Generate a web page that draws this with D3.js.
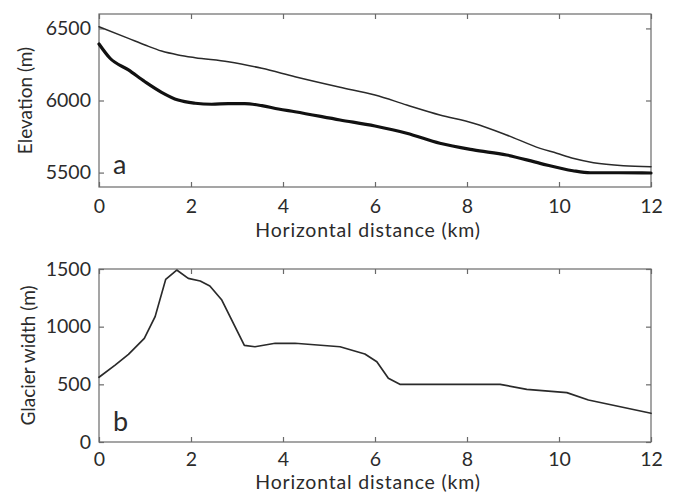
<!DOCTYPE html>
<html>
<head>
<meta charset="utf-8">
<script src="https://cdn.jsdelivr.net/npm/d3@7"></script>
<style>
  html, body { margin: 0; padding: 0; background: #fff; }
  svg { display: block; }
  text { font-family: Lato, "Open Sans", sans-serif; fill: #2b2b2b; }
</style>
</head>
<body>
<svg id="chart" width="678" height="493"></svg>
<script>
// ---- Data ----
const xTicks = [0, 2, 4, 6, 8, 10, 12];
const elevTicks = [5500, 6000, 6500];
const widthTicks = [0, 500, 1000, 1500];

// Panel a: ice surface (thin) and bed (thick), distance in km, elevation in m
const surfaceX = [0, 0.64, 1.0, 1.36, 1.72, 2.09, 2.81, 3.54, 4.26, 5.24, 6.0, 6.69, 7.41, 8.14, 8.86, 9.59, 9.95, 10.3, 10.75, 11.4, 12];
const surfaceY = [6512, 6431, 6385, 6343, 6316, 6297, 6269, 6223, 6165, 6092, 6038, 5969, 5900, 5842, 5761, 5668, 5634, 5599, 5569, 5548, 5541];

const bedX = [0, 0.24, 0.64, 1.0, 1.36, 1.72, 2.09, 2.45, 2.81, 3.17, 3.54, 3.9, 4.26, 5.24, 6.0, 6.69, 7.41, 8.14, 8.86, 9.59, 10.3, 10.68, 11.3, 12];
const bedY = [6392, 6293, 6212, 6130, 6057, 6003, 5981, 5974, 5978, 5978, 5964, 5941, 5922, 5865, 5823, 5773, 5703, 5657, 5622, 5564, 5513, 5499, 5499, 5497];

// Panel b: glacier width (m)
const widthX = [0, 0.35, 0.64, 0.985, 1.22, 1.45, 1.69, 1.94, 2.2, 2.41, 2.67, 3.16, 3.39, 3.83, 4.26, 5.24, 5.78, 6.04, 6.29, 6.54, 8.72, 9.30, 10.17, 10.64, 12.0];
const widthY = [561, 667, 760, 899, 1087, 1410, 1491, 1419, 1396, 1353, 1231, 838, 826, 856, 856, 826, 763, 696, 552, 500, 500, 457, 428, 364, 249];

const xLabel = "Horizontal distance (km)";
const elevLabel = "Elevation (m)";
const widthLabel = "Glacier width (m)";

// ---- Layout ----
const svg = d3.select("#chart");
const left = 99, right = 651;
const axisColor = "#6a6a6a";
const fontFam = "Lato, 'Open Sans', sans-serif";
const fs = 19.5;

const x = d3.scaleLinear().domain([0, 12]).range([left, right]);

function panel(top, bottom, yDomain, yTicks, yLabel, yLabelX, xLabelY, xPad, letter, letterY, series) {
  const y = d3.scaleLinear().domain(yDomain).range([bottom, top]);
  const g = svg.append("g");

  // box
  g.append("rect").attr("x", left).attr("y", top)
    .attr("width", right - left).attr("height", bottom - top)
    .attr("fill", "none").attr("stroke", axisColor).attr("stroke-width", 1.2);

  // inward ticks (all four sides)
  const tl = 5;
  const axB = d3.axisBottom(x).tickValues(xTicks).tickSize(-tl).tickFormat(d3.format("d")).tickPadding(xPad);
  const axT = d3.axisTop(x).tickValues(xTicks).tickSize(-tl).tickFormat("");
  const axL = d3.axisLeft(y).tickValues(yTicks).tickSize(-tl).tickFormat(d3.format("d")).tickPadding(8);
  const axR = d3.axisRight(y).tickValues(yTicks).tickSize(-tl).tickFormat("");

  [[axB, `translate(0,${bottom})`], [axT, `translate(0,${top})`],
   [axL, `translate(${left},0)`], [axR, `translate(${right},0)`]].forEach(([ax, tr]) => {
    const a = g.append("g").attr("transform", tr).call(ax);
    a.select(".domain").remove();
    a.selectAll(".tick line").attr("stroke", axisColor).attr("stroke-width", 1.2);
    a.selectAll(".tick text").attr("font-size", fs).attr("font-family", fontFam).attr("fill", "#2b2b2b");
  });

  // x label
  g.append("text").attr("x", 368).attr("y", xLabelY)
    .attr("text-anchor", "middle").attr("font-size", fs)
    .attr("letter-spacing", 0.8).text(xLabel);

  // y label
  g.append("text")
    .attr("transform", `translate(${yLabelX},${(top + bottom) / 2}) rotate(-90)`)
    .attr("text-anchor", "middle").attr("dy", "0.35em").attr("font-size", 19).text(yLabel);

  // panel letter
  g.append("text").attr("x", 113).attr("y", letterY).attr("font-size", 27).text(letter);

  series.forEach(s => {
    const pts = s.xs.map((d, i) => [d, s.ys[i]]);
    const line = d3.line().x(d => x(d[0])).y(d => y(d[1])).curve(s.curve);
    g.append("path").attr("d", line(pts)).attr("fill", "none")
      .attr("stroke", s.color).attr("stroke-width", s.width)
      .attr("stroke-linejoin", "round").attr("stroke-linecap", "round");
  });
}

panel(14, 187, [5400, 6600], elevTicks, elevLabel, 25, 236.5, 12, "a", 174, [
  { xs: surfaceX, ys: surfaceY, color: "#2a2a2a", width: 1.5, curve: d3.curveMonotoneX },
  { xs: bedX, ys: bedY, color: "#111", width: 3.2, curve: d3.curveMonotoneX }
]);

panel(269, 442, [0, 1500], widthTicks, widthLabel, 28, 489, 10, "b", 431, [
  { xs: widthX, ys: widthY, color: "#2a2a2a", width: 1.7, curve: d3.curveLinear }
]);
</script>
</body>
</html>
